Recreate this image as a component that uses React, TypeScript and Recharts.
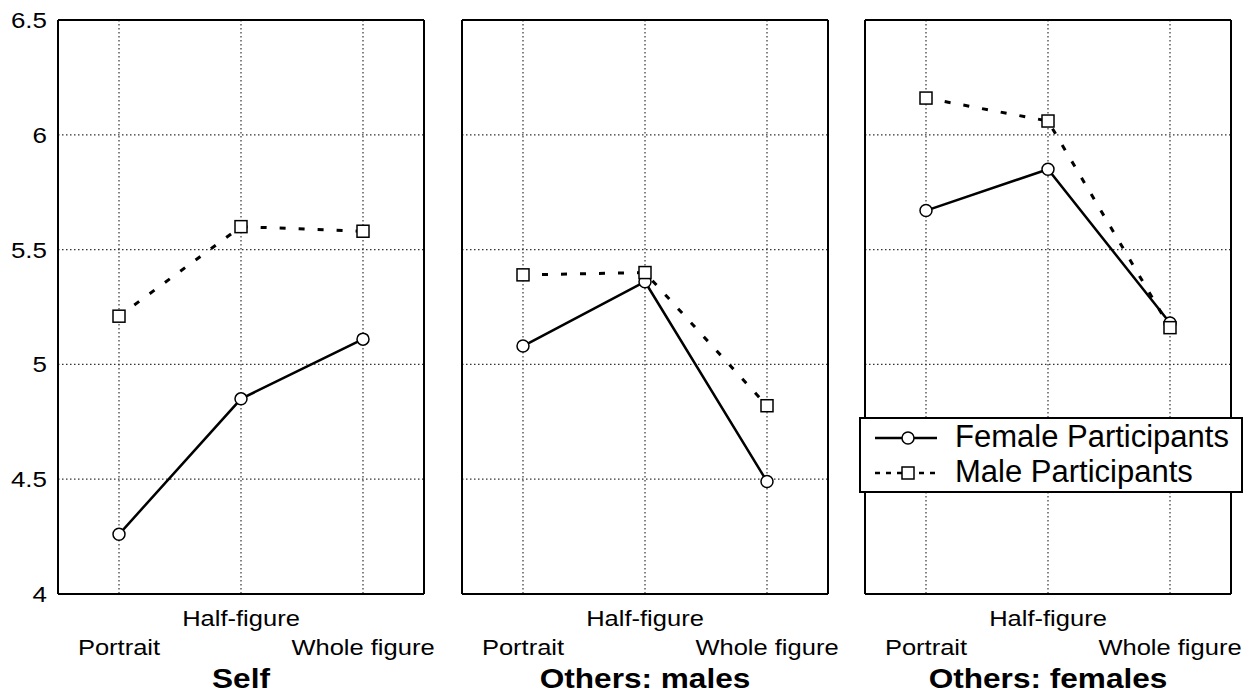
import React from 'react'
import {
  LineChart,
  Line,
  XAxis,
  YAxis,
  CartesianGrid,
  Legend,
  Label
} from 'recharts'

const categories = ['Portrait', 'Half-figure', 'Whole figure']

const selfFemale = [4.26, 4.85, 5.11]
const selfMale = [5.21, 5.6, 5.58]
const othersMalesFemale = [5.08, 5.36, 4.49]
const othersMalesMale = [5.39, 5.4, 4.82]
const othersFemalesFemale = [5.67, 5.85, 5.18]
const othersFemalesMale = [6.16, 6.06, 5.16]

const yTicks = [4, 4.5, 5, 5.5, 6, 6.5]
const minorTicks = [
  4, 4.1, 4.2, 4.3, 4.4, 4.5, 4.6, 4.7, 4.8, 4.9, 5, 5.1, 5.2,
  5.3, 5.4, 5.5, 5.6, 5.7, 5.8, 5.9, 6, 6.1, 6.2, 6.3, 6.4, 6.5
]

const FONT = 'Arial, "Liberation Sans", Helvetica, sans-serif'
const CHART_H = 694
const PLOT_W = 366

function StretchText({ x, y, size, scale, anchor, bold, children }: any) {
  return (
    <text
      x={0}
      y={0}
      transform={`translate(${x},${y}) scale(${scale},1)`}
      textAnchor={anchor}
      fontFamily={FONT}
      fontSize={size}
      fontWeight={bold ? 'bold' : 'normal'}
      fill="#000"
    >
      {children}
    </text>
  )
}

const XTick = ({ x, y, payload }: any) => {
  const raised = payload.value === 'Half-figure'
  return (
    <StretchText x={x} y={y + (raised ? 32 : 61)} size={22} scale={1.16} anchor="middle">
      {payload.value}
    </StretchText>
  )
}

const YTick = ({ x, y, payload }: any) => (
  <StretchText x={x - 11} y={y + 8} size={22} scale={1.18} anchor="end">
    {payload.value}
  </StretchText>
)

const SquareDot = (props: any) => {
  const { cx, cy, index } = props
  return (
    <rect
      key={`sq-${index}`}
      x={cx - 6}
      y={cy - 6}
      width={12}
      height={12}
      fill="#fff"
      stroke="#000"
      strokeWidth={1.5}
    />
  )
}

const LegendBox = () => (
  <div
    style={{
      width: 384,
      height: 76,
      boxSizing: 'border-box',
      border: '2px solid #000',
      background: '#fff',
      fontFamily: FONT,
      fontSize: 31,
      color: '#000',
      position: 'relative'
    }}
  >
    <svg width={90} height={76} style={{ position: 'absolute', left: 0, top: 0 }}>
      <line x1={14} x2={76} y1={19} y2={19} stroke="#000" strokeWidth={2.5} />
      <circle cx={47} cy={19} r={6} fill="#fff" stroke="#000" strokeWidth={1.5} />
      <line x1={14} x2={76} y1={54} y2={54} stroke="#000" strokeWidth={2.5} strokeDasharray="5 6" />
      <rect x={41} y={48} width={12} height={12} fill="#fff" stroke="#000" strokeWidth={1.5} />
    </svg>
    <div style={{ position: 'absolute', left: 94, top: 0, lineHeight: '36px' }}>Female Participants</div>
    <div style={{ position: 'absolute', left: 94, top: 35, lineHeight: '36px' }}>Male Participants</div>
  </div>
)

function Panel({ title, female, male, left, width, marginLeft, showY, showLegend }: any) {
  const data = categories.map((c, i) => ({ cat: c, female: female[i], male: male[i] }))
  const yWidth = showY ? marginLeft : 0
  return (
    <div style={{ position: 'absolute', left, top: 0 }}>
      <LineChart
        width={width}
        height={CHART_H}
        data={data}
        margin={{ top: 20, bottom: 0, left: showY ? 0 : marginLeft, right: width - marginLeft - PLOT_W }}
      >
        <CartesianGrid stroke="#333" strokeWidth={1.2} strokeDasharray="1.5 2.5" />
        <XAxis
          dataKey="cat"
          height={100}
          padding={{ left: 61, right: 61 }}
          tickLine={false}
          tickSize={0}
          tickMargin={0}
          axisLine={{ stroke: '#000', strokeWidth: 2 }}
          tick={<XTick />}
          interval={0}
        >
          <Label
            content={(p: any) => {
              const vb = p.viewBox || { x: 0, width: 0 }
              return (
                <StretchText x={vb.x + vb.width / 2} y={688} size={27} scale={1.17} anchor="middle" bold>
                  {title}
                </StretchText>
              )
            }}
          />
        </XAxis>
        <XAxis
          xAxisId="top"
          dataKey="cat"
          orientation="top"
          mirror
          height={1}
          padding={{ left: 61, right: 61 }}
          tick={false}
          tickLine={false}
          axisLine={{ stroke: '#000', strokeWidth: 2 }}
        />
        <YAxis
          type="number"
          domain={[4, 6.5]}
          ticks={yTicks}
          width={yWidth}
          hide={!showY}
          tickLine={false}
          tickSize={0}
          tickMargin={0}
          axisLine={{ stroke: '#000', strokeWidth: 2 }}
          tick={<YTick />}
        />
        <YAxis
          yAxisId="lm"
          type="number"
          domain={[4, 6.5]}
          ticks={minorTicks}
          interval={0}
          mirror
          width={1}
          tick={false}
          tickSize={4}
          tickLine={{ stroke: '#000', strokeWidth: 1.5 }}
          axisLine={{ stroke: '#000', strokeWidth: 2 }}
        />
        <YAxis
          yAxisId="rm"
          type="number"
          orientation="right"
          domain={[4, 6.5]}
          ticks={minorTicks}
          interval={0}
          mirror
          width={1}
          tick={false}
          tickSize={4}
          tickLine={{ stroke: '#000', strokeWidth: 1.5 }}
          axisLine={{ stroke: '#000', strokeWidth: 2 }}
        />
        <Line
          xAxisId="top"
          yAxisId="lm"
          dataKey="female"
          stroke="none"
          dot={false}
          activeDot={false}
          legendType="none"
          isAnimationActive={false}
        />
        <Line
          xAxisId="top"
          yAxisId="rm"
          dataKey="male"
          stroke="none"
          dot={false}
          activeDot={false}
          legendType="none"
          isAnimationActive={false}
        />
        <Line
          dataKey="female"
          stroke="#000"
          strokeWidth={2.5}
          dot={{ r: 6, fill: '#fff', stroke: '#000', strokeWidth: 1.5 }}
          activeDot={false}
          isAnimationActive={false}
        />
        <Line
          dataKey="male"
          stroke="#000"
          strokeWidth={3}
          strokeDasharray="6 13"
          dot={<SquareDot />}
          activeDot={false}
          isAnimationActive={false}
        />
        {showLegend && (
          <Legend
            layout="horizontal"
            verticalAlign="middle"
            align="center"
            content={<LegendBox />}
            wrapperStyle={{ left: 19, top: 417, width: 384, height: 76 }}
          />
        )}
      </LineChart>
    </div>
  )
}

export default function App() {
  return (
    <div style={{ position: 'absolute', left: 0, top: 0, width: 1255, height: 694, background: '#fff' }}>
      <Panel title="Self" female={selfFemale} male={selfMale} left={0} width={440} marginLeft={58} showY />
      <Panel title="Others: males" female={othersMalesFemale} male={othersMalesMale} left={420} width={420} marginLeft={42} />
      <Panel
        title="Others: females"
        female={othersFemalesFemale}
        male={othersFemalesMale}
        left={840}
        width={415}
        marginLeft={25}
        showLegend
      />
    </div>
  )
}
